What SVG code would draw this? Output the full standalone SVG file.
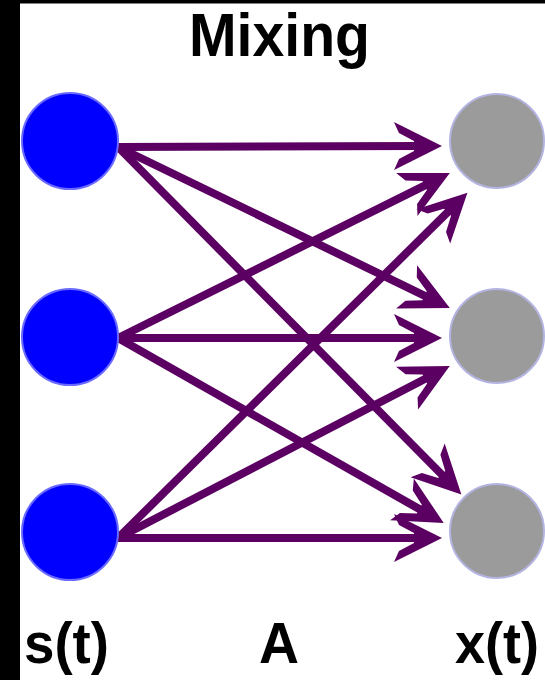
<svg xmlns="http://www.w3.org/2000/svg" width="545" height="680" viewBox="0 0 545 680">
  <style>
    .lbl { font-family: "Liberation Sans", Arial, sans-serif; font-weight: bold; fill: #000; }
    .src { fill: #0000ff; stroke: #6a6aff; stroke-width: 2; }
    .dst { fill: #9b9b9b; stroke: #b4b4e2; stroke-width: 2; }
    .edge { stroke: #5b0062; stroke-width: 8; fill: none; stroke-linecap: butt; marker-end: url(#head); }
  </style>
  <defs>
    <marker id="head" markerUnits="userSpaceOnUse" orient="auto" refX="-20" refY="0" markerWidth="60" markerHeight="60" overflow="visible">
      <path d="M2,0 L-46,-24 L-41,-13 L-26,-5 L-26,5 L-41,13 L-46,24 Z" fill="#5b0062"/>
    </marker>
  </defs>
  <rect x="0" y="0" width="545" height="680" fill="#ffffff"/>
  <rect x="0" y="0" width="20" height="680" fill="#000000"/>
  <rect x="0" y="0" width="545" height="3.5" fill="#000000"/>

  <g id="title">
    <text class="lbl" x="189" y="56" font-size="62" textLength="181" lengthAdjust="spacingAndGlyphs">Mixing</text>
  </g>

  <g id="connectors">
    <line class="edge" x1="118" y1="147" x2="420" y2="146"/>
    <line class="edge" x1="118" y1="338" x2="430.1" y2="182.9"/>
    <line class="edge" x1="118" y1="538" x2="451.8" y2="208.1"/>
    <line class="edge" x1="118" y1="147" x2="430" y2="298.3"/>
    <line class="edge" x1="118" y1="338" x2="420" y2="338"/>
    <line class="edge" x1="118" y1="538" x2="430.2" y2="376.2"/>
    <line class="edge" x1="118" y1="147" x2="445.9" y2="478.8"/>
    <line class="edge" x1="118" y1="338" x2="424.6" y2="512.1"/>
    <line class="edge" x1="118" y1="538" x2="420" y2="538"/>
  </g>

  <g id="s1"><circle class="src" cx="70" cy="141" r="48"/></g>
  <g id="s2"><circle class="src" cx="70" cy="337" r="48"/></g>
  <g id="s3"><circle class="src" cx="70" cy="532" r="48"/></g>

  <g id="x1"><circle class="dst" cx="497" cy="141" r="47"/></g>
  <g id="x2"><circle class="dst" cx="497" cy="336" r="47"/></g>
  <g id="x3"><circle class="dst" cx="497" cy="531" r="47"/></g>

  <g id="labels">
    <text class="lbl" x="24" y="663" font-size="58" textLength="85" lengthAdjust="spacingAndGlyphs">s(t)</text>
    <text class="lbl" x="259" y="663" font-size="58" textLength="40" lengthAdjust="spacingAndGlyphs">A</text>
    <text class="lbl" x="455" y="663" font-size="58" textLength="84" lengthAdjust="spacingAndGlyphs">x(t)</text>
  </g>
</svg>
